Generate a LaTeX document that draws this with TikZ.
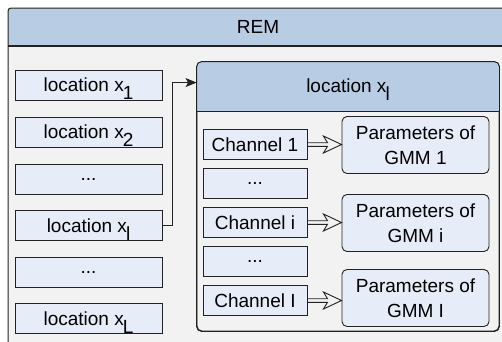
\documentclass[tikz,border=0pt]{standalone}
\usepackage{fontspec}
\setmainfont{Liberation Sans}
\usetikzlibrary{arrows.meta,calc}

\definecolor{headblue}{HTML}{B8CCE4}
\definecolor{boxblue}{HTML}{E6EDF8}
\definecolor{panelgray}{HTML}{F2F2F2}
\definecolor{edge}{HTML}{222222}

% lowered index right after the x
\newcommand\lidx[1]{\kern-1pt\raisebox{-8pt}[0pt][0pt]{#1}}

\tikzset{
  txt/.style={font=\fontsize{19}{25}\selectfont, text=black},
  locbox/.style={txt, draw=edge, fill=boxblue, line width=0.9pt,
    minimum width=147pt, minimum height=30pt, inner sep=0pt},
  chanbox/.style={txt, draw=edge, fill=boxblue, line width=0.9pt,
    minimum width=104pt, minimum height=30pt, inner sep=0pt},
  parbox/.style={txt, draw=edge, fill=boxblue, line width=0.9pt,
    rounded corners=5pt, minimum width=147pt, minimum height=57pt,
    inner sep=0pt, align=center},
  link/.style={draw=edge, line width=0.9pt},
  dbl/.style={draw=edge, line width=0.9pt, line join=miter},
}

\begin{document}
\begin{tikzpicture}[x=1pt,y=-1pt]
\useasboundingbox (0,0) rectangle (502,341);
\clip (0,0) rectangle (502,341);

% REM panel (runs past the right and bottom edges)
\fill[panelgray] (8,8) rectangle (520,360);
\fill[headblue, rounded corners=3pt] (8,8) rectangle (520,46);
\draw[edge, line width=1pt, rounded corners=3pt] (8,360) -- (8,8) -- (520,8);
\draw[edge, line width=1.2pt] (8,46) -- (520,46);
\node[txt] (rem) at (258,27) {REM};

% list of locations
\node[locbox] (l1) at (88.5,85)    {location x\lidx{1}};
\node[locbox] (l2) at (88.5,132)   {location x\lidx{2}};
\node[locbox] (l3) at (88.5,179)   {...};
\node[locbox] (l4) at (88.5,225.5) {location x\lidx{l}};
\node[locbox] (l5) at (88.5,272)   {...};
\node[locbox] (l6) at (88.5,318.5) {location x\lidx{L}};

% detail card of one location
\node[draw=edge, fill=panelgray, line width=0.9pt, rounded corners=5pt,
      minimum width=302pt, minimum height=269pt, inner sep=0pt]
      (card) at (348,196.5) {};
\fill[headblue, rounded corners=5pt]
  ($(card.north west)+(0.45,0.45)$) rectangle ($(card.north east)+(-0.45,50)$);
\fill[headblue] ($(card.north west)+(0.45,30)$) rectangle ($(card.north east)+(-0.45,50)$);
\draw[edge, line width=0.9pt, rounded corners=5pt] (card.north west) rectangle (card.south east);
\draw[edge, line width=0.9pt] ($(card.north west)+(0,50)$) -- ($(card.north east)+(0,50)$);
\node[txt] (cardtitle) at ($(card.north)+(0,24)$) {location x\lidx{l}};

% channels and their GMM parameters
\node[chanbox] (c1) at (255,144.5) {Channel 1};
\node[chanbox] (c2) at (255,183.5) {...};
\node[chanbox] (c3) at (255,222.5) {Channel i};
\node[chanbox] (c4) at (255,261.5) {...};
\node[chanbox] (c5) at (255,300.5) {Channel I};

\node[parbox] (p1) at (415.5,145) {Parameters of\\GMM 1};
\node[parbox] (p3) at (415.5,223) {Parameters of\\GMM i};
\node[parbox] (p5) at (415.5,298) {Parameters of\\GMM I};

% selected location -> its card
\coordinate (cardin) at ($(card.north west)+(0,21)$);
\draw[link, -{Stealth[length=11pt,width=9pt,inset=2.5pt]}]
  (l4.east) -- ++(10,0) |- (cardin);

% hollow double arrows channel -> parameters
\foreach \c/\p in {c1/p1, c3/p3, c5/p5}{
  \draw[dbl]
    ($(\c.east)+(0,-1.8)$) -- ($(\c.east)+(20,-1.8)$) -- ($(\c.east)+(16,-8.5)$)
    -- (\p.west |- \c.east)
    -- ($(\c.east)+(16,8.5)$) -- ($(\c.east)+(20,1.8)$) -- ($(\c.east)+(0,1.8)$);
}
\end{tikzpicture}
\end{document}
